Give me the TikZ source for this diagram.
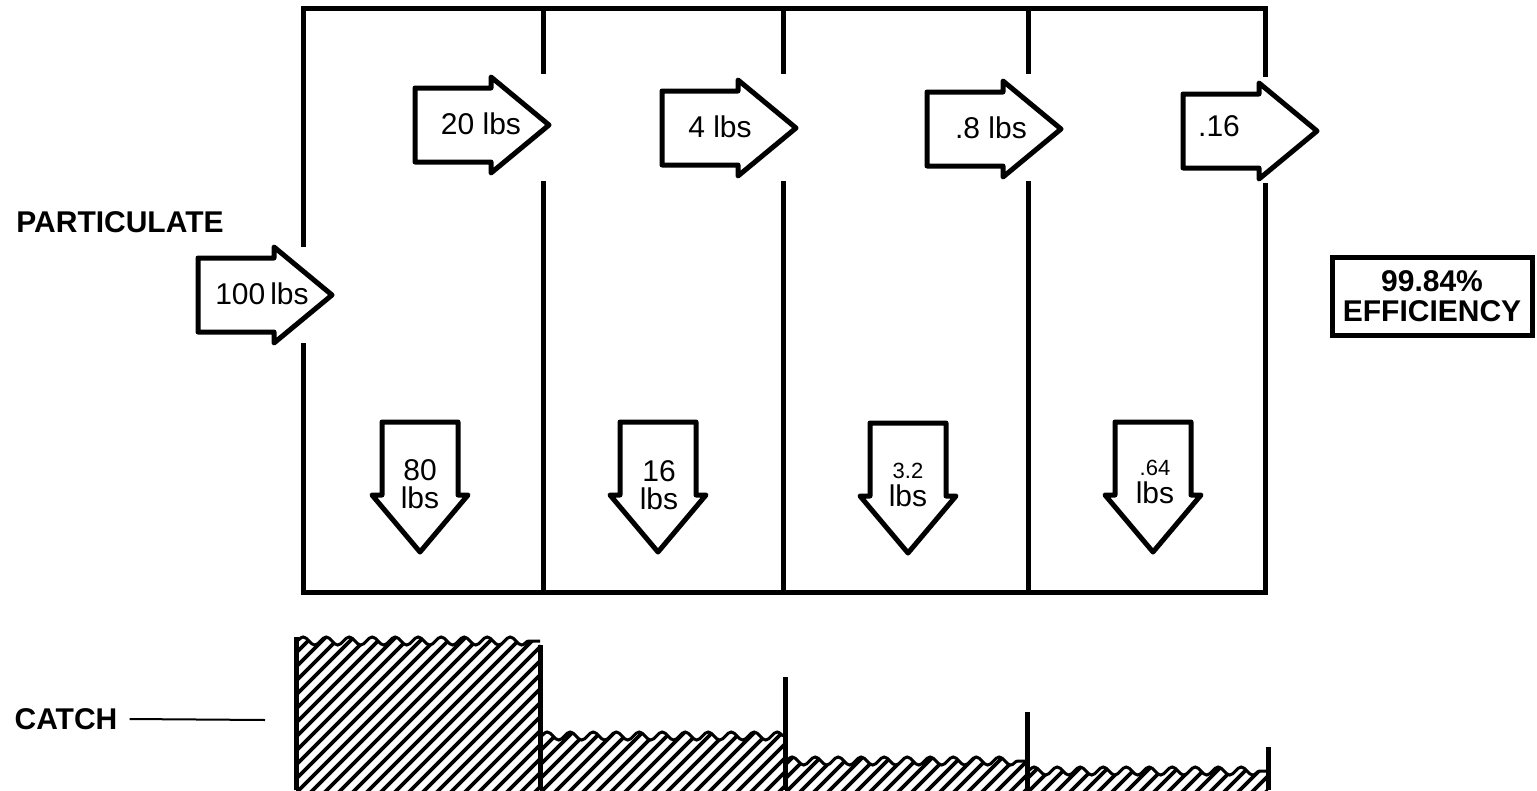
\documentclass[tikz,border=0pt]{standalone}
\usepackage{fontspec}
\setmainfont{Liberation Sans}
\usetikzlibrary{decorations.pathmorphing}
\tikzset{
  heavy/.style={line width=5pt},
  flowright/.pic={\draw[heavy, line join=round, fill=white]
    (0,-37) -- (76,-37) -- (76,-48) -- (134,0) -- (76,48) -- (76,37) -- (0,37) -- cycle;},
  flowdown/.pic={\draw[heavy, line join=round, fill=white]
    (-38,0) -- (38,0) -- (38,73) -- (48,73) -- (0,130) -- (-48,73) -- (-38,73) -- cycle;},
  amount/.style={font=\fontsize{30}{28}\selectfont, inner sep=0pt, align=center},
  heading/.style={font=\bfseries\fontsize{30}{30}\selectfont, inner sep=0pt},
  hatch/.style={line width=3.6pt},
  wavy/.style={decorate, decoration={snake, segment length=23pt, amplitude=4pt}}
}

\begin{document}
\begin{tikzpicture}[x=1pt, y=-1pt]
  \useasboundingbox (0,0) rectangle (1537,790);

  % --- Collector housing ---
  % outer walls, left and right walls open where the flow passes
  \draw[heavy] (303,247) -- (303,8) -- (1265,8) -- (1265,77);
  \draw[heavy] (303,343) -- (303,592) -- (1265,592) -- (1265,183);
  % stage walls, open at the top for the carried particulate
  \foreach \xs in {543,783,1028}
    \draw[heavy] (\xs,8) -- (\xs,74) (\xs,181) -- (\xs,592);

  % --- Flow through the stages ---
  \pic at (198,295) {flowright};
  \pic at (415,125) {flowright};
  \pic at (662,128) {flowright};
  \pic at (927,129) {flowright};
  \pic at (1183,131) {flowright};
  \node[amount] (n100) at (262,294) {100\,lbs};
  \node[amount] (n20)  at (481,124) {20 lbs};
  \node[amount] (n4)   at (720,127) {4 lbs};
  \node[amount] (n08)  at (991,128) {.8 lbs};
  \node[amount] (n016) at (1219,126) {.16};

  % --- Drop-out in each stage ---
  \pic at (420,422) {flowdown};
  \pic at (658,422) {flowdown};
  \pic at (908,423) {flowdown};
  \pic at (1153,422) {flowdown};
  \node[amount] (d80)  at (420,484) {80\\lbs};
  \node[amount] (d16)  at (659,485) {16\\lbs};
  \node[amount] (d32)  at (908,485) {{\fontsize{22}{22}\selectfont 3.2}\\lbs};
  \node[amount] (d064) at (1155,482) {{\fontsize{22}{22}\selectfont .64}\\lbs};

  % --- Result ---
  \node[heading, draw, heavy, align=center, minimum width=200pt, minimum height=78pt]
    (eff) at (1432,296) {99.84\%\\EFFICIENCY};

  % --- Labels ---
  \node[heading] (part) at (120,222) {PARTICULATE};
  \node[heading] (catch) at (66,719) {CATCH};
  \coordinate (catchend) at (265,720);
  \draw[line width=2pt] ([xshift=12pt]catch.east) -- (catchend);

  % --- Catch per stage ---
  \foreach \xa/\xb/\yt in {296/540/641, 540/785/736, 785/1027/761, 1027/1268/771} {
    \begin{scope}
      \clip (\xa,795) -- (\xa,\yt) decorate[wavy] {-- (\xb,\yt)} -- (\xb,795) -- cycle;
      \foreach \k in {0,14,...,430}
        \draw[hatch] (\xa-170+\k,795) -- ++(170,-170);
    \end{scope}
    \draw[line width=3pt] (\xa,\yt) decorate[wavy] {-- (\xb,\yt)};
  }
  \draw[heavy] (296,637) -- (296,790);
  \draw[heavy] (540,645) -- (540,790);
  \draw[heavy] (785,677) -- (785,790);
  \draw[heavy] (1027,712) -- (1027,790);
  \draw[heavy] (1268,747) -- (1268,790);
\end{tikzpicture}
\end{document}
